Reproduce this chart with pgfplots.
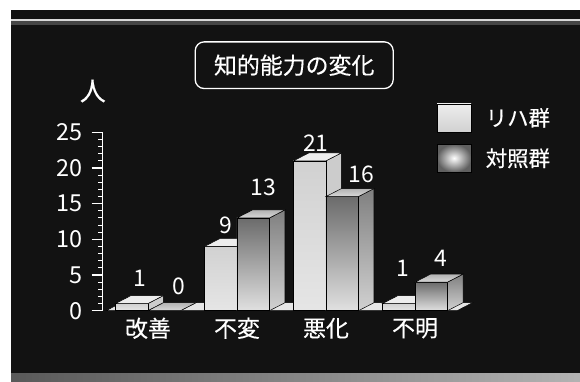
\documentclass[border=0pt]{standalone}
\usepackage{pgfplots}
\pgfplotsset{compat=1.18}
\usepackage{pgfplotstable}
\usepackage{fontspec}
\setmainfont{Noto Sans CJK JP}
\newfontfamily\cjkb{Noto Sans CJK JP}[FakeBold=0.4]
\pgfdeclareplotmark{nothing}{}
\definecolor{bg}{gray}{0.07}
\definecolor{rfT}{gray}{0.82}
\definecolor{rfB}{gray}{0.90}
\definecolor{rS}{gray}{0.80}
\definecolor{rT}{gray}{0.93}
\definecolor{cfT}{gray}{0.42}
\definecolor{cfB}{gray}{0.88}
\definecolor{csT}{gray}{0.50}
\definecolor{csB}{gray}{0.82}
\definecolor{ctT}{gray}{0.70}
\definecolor{ctB}{gray}{0.85}
\definecolor{flr}{gray}{0.90}

% category x, value y, label offset lx (bp, from front-face centre), ly (bp above front top)
\pgfplotstableread{
x y lx ly
0 1 8.5 25.6
1 9 5.5 21.5
2 21 6 17.8
3 1 4 35.6
}\rija
\pgfplotstableread{
x y lx ly
0 0 14.5 24
1 13 10 30.2
2 16 18.8 22.5
3 4 10 23.9
}\ctrl

\newcommand\drawcuboid[4]{% #1 left edge of front (bp); #2 front; #3 side; #4 top
  \pgfmathsetmacro\hh{\val*7.136}%
  \pgfmathsetmacro\xa{#1}%
  \pgfmathsetmacro\xb{#1+32.5}%
  \pgfmathsetmacro\xc{#1+15.5}%
  \pgfmathsetmacro\xd{#1+48}%
  \pgfmathsetmacro\yb{8-\hh}%
  \path[#3,draw=black,line width=0.5bp] (\xb bp,0bp) -- (\xd bp,8bp) -- (\xd bp,\yb bp) -- (\xb bp,-\hh bp) -- cycle;
  \path[#2,draw=black,line width=0.5bp] (\xa bp,-\hh bp) rectangle (\xb bp,0bp);
  \path[#4,draw=black,line width=0.5bp] (\xa bp,0bp) -- (\xb bp,0bp) -- (\xd bp,8bp) -- (\xc bp,8bp) -- cycle;
}

\pgfplotsset{
  cuboid/.style={
    scatter, only marks, mark=nothing, forget plot,
    visualization depends on={rawy \as \val},
    visualization depends on={\thisrow{ly} \as \ly},
    scatter/@post marker code/.code={},
    nodes near coords={\pgfmathprintnumber[fixed,precision=0]{\val}},
  },
}

\begin{document}
\begin{tikzpicture}[x=1bp,y=1bp]
\useasboundingbox (0,0) rectangle (580,381);
\fill[white] (0,0) rectangle (580,381);
\fill[bg] (11,0) rectangle (580,371);
\fill[gray!55!black] (11,356) rectangle (580,361);
\draw[gray!30, line width=1.2bp] (11,361) -- (580,361);
\shade[left color=gray!70!black, right color=gray!60] (11,0) rectangle (580,8);

\begin{axis}[
  at={(102.3bp,70.3bp)}, anchor=south west,
  scale only axis, width=357.2bp, height=178.4bp,
  xmin=-0.513, xmax=3.5, ymin=0, ymax=25,
  enlargelimits=false, clip=false,
  axis y line*=left, axis x line*=bottom,
  x axis line style={draw=none},
  y axis line style={white, line width=1.2bp},
  xtick={0,1,2,3},
  xticklabels={改善,不変,悪化,不明},
  xtick style={draw=none},
  xticklabel style={anchor=center, yshift=-7bp, text=white,
    font=\cjkb\fontsize{23}{23}\selectfont},
  ytick={0,5,10,15,20,25},
  minor y tick num=4,
  tick align=outside,
  major tick length=10.6bp, minor tick length=4bp,
  ytick style={white, line width=1.1bp},
  minor y tick style={white, line width=1bp},
  /pgf/number format/assume math mode=true,
  yticklabel style={text=white, font=\fontsize{23.5}{23.5}\selectfont, anchor=east, inner sep=0pt, xshift=-9.4bp},
  ylabel={人},
  ylabel style={rotate=-90, at={(axis description cs:-0.0266,1.2315)}, anchor=center,
    text=white, font=\cjkb\fontsize{26}{26}\selectfont},
  legend style={at={(axis description cs:0.936,1.1625)}, anchor=north west,
    draw=none, fill=none, text=white, font=\cjkb\fontsize{21.5}{21.5}\selectfont,
    row sep=12bp, inner sep=0pt, cells={anchor=west},
    /tikz/every odd column/.style={column sep=12.5bp}},
  legend cell align=left,
]
% floor
\addplot[fill=flr, draw=black, line width=0.5bp, forget plot]
  coordinates {(-0.472,0) (3.472,0) (3.646,1.121) (-0.298,1.121)} -- cycle;

\addplot[cuboid,
  visualization depends on={\thisrow{lx}-16.25 \as \lx},
  scatter/@pre marker code/.code={\drawcuboid{-32.5}{top color=rfT, bottom color=rfB}{fill=rS}{fill=rT}},
  every node near coord/.style={anchor=center, text=white, font=\fontsize{23}{23}\selectfont,
    xshift=\lx bp, yshift=\ly bp},
] table[x=x,y=y] {\rija};

\addplot[cuboid,
  visualization depends on={\thisrow{lx}+16.25 \as \lx},
  scatter/@pre marker code/.code={\drawcuboid{0}{top color=cfT, bottom color=cfB}{top color=csT, bottom color=csB}{top color=ctT, bottom color=ctB}},
  every node near coord/.style={anchor=center, text=white, font=\fontsize{23}{23}\selectfont,
    xshift=\lx bp, yshift=\ly bp},
] table[x=x,y=y] {\ctrl};

\addlegendimage{legend image code/.code={\shade[top color=rT, bottom color=rfT] (0bp,-14bp) rectangle (34bp,14bp);}}
\addlegendentry{リハ群}
\addlegendimage{legend image code/.code={\shade[inner color=white, outer color=gray!75!black] (0bp,-14bp) rectangle (34bp,14bp);}}
\addlegendentry{対照群}
\end{axis}

\node[draw=white, line width=1.3bp, rounded corners=9bp, minimum width=198bp,
  minimum height=46.7bp, text=white, font=\cjkb\fontsize{23}{23}\selectfont]
  at (294.2,315.8) {知的能力の変化};
\end{tikzpicture}
\end{document}
